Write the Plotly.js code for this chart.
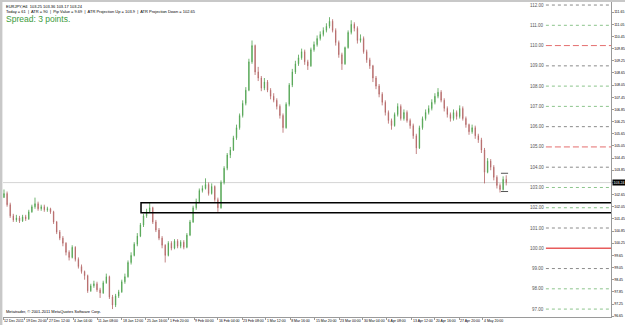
<!DOCTYPE html>
<html>
<head>
<meta charset="utf-8">
<script src="https://cdn.plot.ly/plotly-3.0.1.min.js"></script>
<style>
html,body{margin:0;padding:0;background:#fff;}
#chart{width:625px;height:325px;}
</style>
</head>
<body>
<div id="chart"></div>
<script>
// ---- DATA (EURJPY H4, each candle = 4 H4 bars) ----
const openP = [102.50,102.70,102.15,101.60,101.40,101.50,101.35,101.55,101.45,101.80,102.05,102.20,101.95,102.05,101.90,101.95,101.80,101.30,100.80,100.50,100.25,99.80,99.55,100.05,99.45,99.10,98.85,98.65,97.90,98.15,98.25,97.95,97.80,98.30,98.60,97.60,97.20,97.65,97.85,98.35,98.60,99.30,99.65,100.20,100.60,101.15,101.60,101.80,102.00,101.30,100.90,100.50,100.15,99.65,100.25,100.00,100.35,100.10,100.30,100.05,100.65,101.30,102.00,102.30,102.85,102.95,103.15,102.70,103.05,102.40,102.00,103.25,103.95,104.60,104.85,105.45,105.95,106.55,107.15,107.80,109.20,110.00,108.70,108.40,107.90,108.20,107.80,107.50,107.30,107.00,106.55,105.95,107.10,108.05,108.70,109.10,109.40,109.70,109.20,109.00,109.80,110.05,110.35,110.55,110.75,110.95,111.20,110.75,110.15,109.55,109.10,109.90,110.65,111.05,110.85,110.25,110.35,109.70,109.30,109.00,108.40,108.00,107.60,107.20,106.70,106.30,106.05,106.60,107.00,106.40,106.70,106.30,106.05,105.55,104.95,105.95,106.40,106.70,106.90,107.20,107.50,107.70,107.30,106.90,106.60,106.40,106.70,106.50,106.90,106.40,106.10,105.75,105.95,105.55,105.35,104.85,103.75,104.30,104.00,103.50,103.10,102.90,103.40];
const highP = [102.90,102.80,102.25,101.70,101.65,101.60,101.65,101.65,101.90,102.15,102.50,102.30,102.15,102.15,102.05,102.00,101.85,101.35,100.90,100.60,100.30,99.90,100.15,100.10,99.55,99.20,98.90,98.70,98.25,98.40,98.35,98.05,98.40,98.75,98.65,97.70,97.75,97.95,98.45,98.75,99.40,99.80,100.30,100.75,101.25,101.70,101.95,102.25,102.05,101.40,101.00,100.60,100.20,100.35,100.35,100.45,100.45,100.40,100.40,100.75,101.40,102.10,102.45,102.95,103.10,103.45,103.25,103.20,103.10,102.50,103.35,104.05,104.70,105.00,105.55,106.10,106.65,107.30,107.95,109.35,110.25,110.05,108.95,108.50,108.40,108.30,107.90,107.65,107.40,107.10,106.65,107.20,108.15,108.85,109.25,109.55,109.85,109.80,109.30,109.90,110.20,110.50,110.70,110.90,111.10,111.40,111.30,110.85,110.25,109.65,109.95,110.75,111.25,111.15,110.95,110.55,110.45,109.80,109.40,109.05,108.50,108.10,107.70,107.30,106.80,106.40,106.70,107.15,107.10,106.85,106.80,106.40,106.15,105.65,106.05,106.50,106.85,107.05,107.35,107.65,107.90,107.80,107.40,107.00,106.70,106.85,106.80,107.05,107.00,106.50,106.15,106.10,106.05,105.65,105.45,104.95,104.45,104.40,104.10,103.60,103.20,103.55,103.60];
const lowP = [102.50,102.05,101.50,101.30,101.30,101.25,101.30,101.35,101.40,101.75,101.95,101.85,101.85,101.80,101.80,101.70,101.20,100.70,100.40,100.10,99.65,99.40,99.50,99.35,99.00,98.75,98.45,97.80,97.85,98.05,97.85,97.55,97.75,98.25,97.50,97.00,97.10,97.55,97.80,98.25,98.55,99.20,99.60,100.10,100.55,101.05,101.50,101.75,101.20,100.80,100.40,100.00,99.30,99.60,99.90,99.95,100.00,100.00,99.95,100.00,100.60,101.25,101.90,102.25,102.75,102.90,102.60,102.65,102.30,101.80,101.95,103.15,103.85,104.45,104.80,105.35,105.85,106.45,107.05,107.75,109.10,108.55,108.25,107.75,107.80,107.70,107.35,107.20,106.85,106.40,105.70,105.90,107.00,107.95,108.60,109.00,109.30,109.05,108.80,108.95,109.70,109.95,110.25,110.45,110.65,110.85,110.65,110.00,109.40,108.80,109.05,109.85,110.55,110.70,110.10,110.15,109.60,109.15,108.85,108.20,107.85,107.45,107.05,106.55,106.15,105.85,106.00,106.50,106.30,106.30,106.20,105.90,105.40,104.65,104.90,105.85,106.30,106.60,106.80,107.10,107.40,107.20,106.75,106.45,106.25,106.30,106.35,106.40,106.30,105.95,105.60,105.65,105.40,105.20,104.70,103.20,103.70,103.85,103.35,102.95,102.75,102.85,103.10];
const closeP = [102.70,102.15,101.60,101.40,101.50,101.35,101.55,101.45,101.80,102.05,102.20,101.95,102.05,101.90,101.95,101.80,101.30,100.80,100.50,100.25,99.80,99.55,100.05,99.45,99.10,98.85,98.65,97.90,98.15,98.25,97.95,97.80,98.30,98.60,97.60,97.20,97.65,97.85,98.35,98.60,99.30,99.65,100.20,100.60,101.15,101.60,101.80,102.00,101.30,100.90,100.50,100.15,99.65,100.25,100.00,100.35,100.10,100.30,100.05,100.65,101.30,102.00,102.30,102.85,102.95,103.15,102.70,103.05,102.40,102.00,103.25,103.95,104.60,104.85,105.45,105.95,106.55,107.15,107.80,109.20,110.00,108.70,108.40,107.90,108.20,107.80,107.50,107.30,107.00,106.55,105.95,107.10,108.05,108.70,109.10,109.40,109.70,109.20,109.00,109.80,110.05,110.35,110.55,110.75,110.95,111.20,110.75,110.15,109.55,109.10,109.90,110.65,111.05,110.85,110.25,110.35,109.70,109.30,109.00,108.40,108.00,107.60,107.20,106.70,106.30,106.05,106.60,107.00,106.40,106.70,106.30,106.05,105.55,104.95,105.95,106.40,106.70,106.90,107.20,107.50,107.70,107.30,106.90,106.60,106.40,106.70,106.50,106.90,106.40,106.10,105.75,105.95,105.55,105.35,104.85,103.75,104.30,104.00,103.50,103.10,102.90,103.40,103.24];

const xTickPos = [-0.3,6.77,14.19,22.26,30.0,38.06,45.8,53.2,61.3,69.0,76.8,84.5,92.3,100.3,108.1,115.8,123.5,131.6,139.0,146.8,154.5];
const xTickText = ["12 Dec 2011","19 Dec 20:00","27 Dec 12:00","4 Jan 04:00","11 Jan 08:00","18 Jan 12:00","25 Jan 16:00","1 Feb 20:00","9 Feb 00:00","16 Feb 04:00","23 Feb 08:00","1 Mar 12:00","8 Mar 16:00","15 Mar 20:00","23 Mar 00:00","30 Mar 04:00","6 Apr 08:00","13 Apr 12:00","20 Apr 16:00","27 Apr 20:00","4 May 20:00"];
const yTickVals = [96.65,97.25,97.85,98.45,99.05,99.65,100.25,100.85,101.45,102.05,102.65,103.25,103.85,104.45,105.05,105.65,106.25,106.85,107.45,108.05,108.65,109.25,109.85,110.45,111.05,111.65];
const yTickText = ["96.65","97.25","97.85","98.45","99.05","99.65","100.25","100.85","101.45","102.05","102.65","103.25","103.85","104.45","105.05","105.65","106.25","106.85","107.45","108.05","108.65","109.25","109.85","110.45","111.05","111.65"];

const levels = [112,111,110,109,108,107,106,105,104,103,102,101,100,99,98,97];
const levelText = ["112.00","111.00","110.00","109.00","108.00","107.00","106.00","105.00","104.00","103.00","102.00","101.00","100.00","99.00","98.00","97.00"];
const levelKind = ["grey","green","reddash","grey","green","green","grey","reddash","grey","green","green","grey","redsolid","grey","green","green"];

const zoneTop = 102.25, zoneBottom = 101.75, zoneStart = 44.2;
const lastPrice = 103.24;
const atrUp = 103.70, atrDown = 102.80;

const headerLine1 = "EURJPY,H4  103.25 103.36 103.17 103.24";
const headerLine2 = "Today = 61  |  ATR = 90  |  Pip Value = 9.69  |  ATR Projection Up = 103.9  |  ATR Projection Down = 102.65";
const spreadText = "Spread: 3 points.";
const copyright = "Metatrader, \u00a9 2001-2011 MetaQuotes Software Corp.";

// ---- CHART ----
const xIdx = closeP.map((_, i) => i);
const FONT = "Liberation Sans, Arial, sans-serif";

const trace = {
  type: "candlestick",
  x: xIdx, open: openP, high: highP, low: lowP, close: closeP,
  increasing: {line: {color: "#4ea24e", width: 0.8}, fillcolor: "#6fb96f"},
  decreasing: {line: {color: "#b46464", width: 0.8}, fillcolor: "#c08585"},
  whiskerwidth: 0,
  hoverinfo: "skip",
  showlegend: false
};

const levelStyle = {
  grey: {color: "#8a8a8a", dash: "dot", width: 1},
  green: {color: "#8cc48c", dash: "dot", width: 1},
  reddash: {color: "rgb(228,110,110)", dash: "6px,3px", width: 1},
  redsolid: {color: "#e85c5c", dash: "solid", width: 1.5}
};

const shapes = [];
const annotations = [];

// frame bands
shapes.push({type: "rect", xref: "paper", yref: "paper", x0: -0.01, x1: 1.03, y0: 1, y1: 1.01, fillcolor: "#c8c8c8", line: {width: 0}, layer: "below"});
shapes.push({type: "rect", xref: "paper", yref: "paper", x0: -0.006, x1: -0.001, y0: -0.03, y1: 1.01, fillcolor: "#c8c8c8", line: {width: 0}, layer: "below"});

// last price line
shapes.push({type: "line", xref: "paper", yref: "y", x0: 0, x1: 1, y0: lastPrice, y1: lastPrice, line: {color: "#d4d4d4", width: 1}, layer: "below"});

// levels
levels.forEach((lv, i) => {
  const st = levelStyle[levelKind[i]];
  shapes.push({type: "line", xref: "x", yref: "y", x0: 174.8, x1: 260, y0: lv, y1: lv, line: {color: st.color, dash: st.dash, width: st.width}, layer: "above", opacity: 1});
  annotations.push({xref: "x", yref: "y", x: 174.8, y: lv, text: levelText[i], showarrow: false, xanchor: "right", yanchor: "middle", font: {family: FONT, size: 4.5, color: "#555"}});
});

// zone rectangle
shapes.push({type: "rect", xref: "x", yref: "y", x0: zoneStart, x1: 260, y0: zoneBottom, y1: zoneTop, line: {color: "#000", width: 1.5}, fillcolor: "rgba(0,0,0,0)"});

// ATR projection marks
[atrUp, atrDown].forEach(v => {
  shapes.push({type: "line", xref: "x", yref: "y", x0: 160.3, x1: 162.6, y0: v, y1: v, line: {color: "#555", width: 1}});
});

// price box
annotations.push({xref: "paper", yref: "y", x: 1, y: lastPrice, text: "103.24", showarrow: false, xanchor: "left", yanchor: "middle", xshift: 1, bgcolor: "#000", font: {family: FONT, size: 3.6, color: "#fff"}, borderpad: 0.5});

// header texts
annotations.push({xref: "paper", yref: "paper", x: 0, y: 1, yanchor: "top", xanchor: "left", xshift: 1, yshift: 0, text: headerLine1, showarrow: false, font: {family: FONT, size: 4, color: "#000"}});
annotations.push({xref: "paper", yref: "paper", x: 0, y: 1, yanchor: "top", xanchor: "left", xshift: 1, yshift: -5, text: headerLine2, showarrow: false, font: {family: FONT, size: 4, color: "#000"}});
annotations.push({xref: "paper", yref: "paper", x: 0, y: 1, yanchor: "top", xanchor: "left", xshift: 1, yshift: -10, text: spreadText, showarrow: false, font: {family: FONT, size: 8.5, color: "#3c9c3c"}});
annotations.push({xref: "paper", yref: "paper", x: 0, y: 0, yanchor: "bottom", xanchor: "left", xshift: 1, yshift: 1, text: copyright, showarrow: false, font: {family: FONT, size: 4, color: "#000"}});

const layout = {
  width: 625, height: 325,
  margin: {l: 3, r: 14, t: 2, b: 8, pad: 0},
  paper_bgcolor: "#fff", plot_bgcolor: "#fff",
  showlegend: false,
  boxgap: 0.8,
  xaxis: {
    range: [-0.32, 195.8], showgrid: false, zeroline: false,
    showline: true, linecolor: "#9a9a9a", linewidth: 1,
    tickmode: "array", tickvals: xTickPos, ticktext: xTickText,
    ticks: "outside", ticklen: 2, tickcolor: "#9a9a9a",
    ticklabelposition: "outside right", tickangle: 0, ticklabelstandoff: 0,
    tickfont: {family: FONT, size: 3.5, color: "#000"},
    rangeslider: {visible: false}, fixedrange: true
  },
  yaxis: {
    side: "right", range: [96.61, 112.15], showgrid: false, zeroline: false,
    showline: true, linecolor: "#9a9a9a", linewidth: 1,
    tickmode: "array", tickvals: yTickVals, ticktext: yTickText,
    ticks: "outside", ticklen: 1.5, tickcolor: "#9a9a9a", ticklabelstandoff: 0,
    tickfont: {family: FONT, size: 3.5, color: "#000"}, fixedrange: true
  },
  shapes: shapes,
  annotations: annotations
};

Plotly.newPlot("chart", [trace], layout, {displayModeBar: false, staticPlot: true});
</script>
</body>
</html>
